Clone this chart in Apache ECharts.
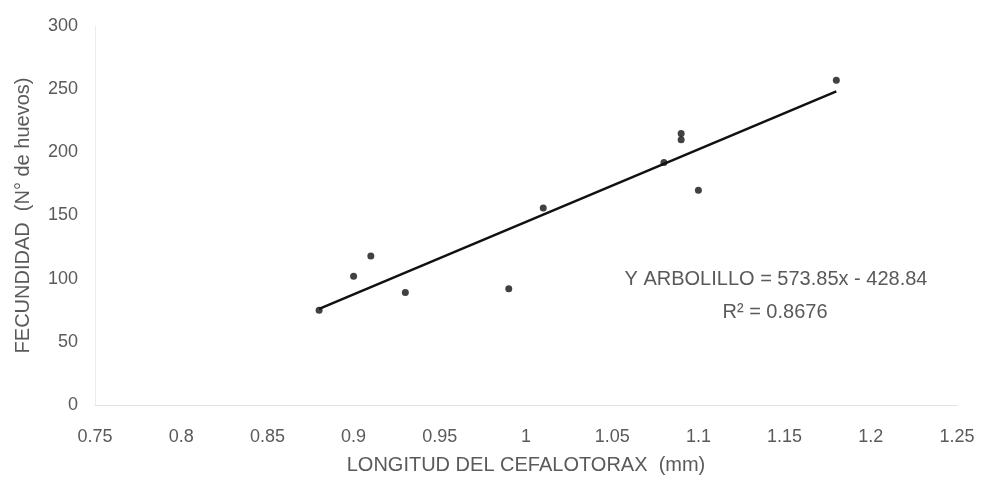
<!DOCTYPE html>
<html>
<head>
<meta charset="utf-8">
<script src="https://cdn.jsdelivr.net/npm/echarts@6/dist/echarts.min.js"></script>
<style>
  html, body { margin: 0; padding: 0; background: #fff; }
  #chart { width: 981px; height: 483px; }
</style>
</head>
<body>
<div id="chart"></div>
<script>
// Cephalothorax length (mm) against egg count
const longitud = [0.88, 0.90, 0.91, 0.93, 0.99, 1.01, 1.08, 1.09, 1.09, 1.10, 1.18];
const huevos   = [75, 102, 118, 89, 92, 156, 192, 215, 210, 170, 257];

// Least-squares fit reported for the sample
const pendiente = 573.85;
const intercepto = -428.84;
const r2 = 0.8676;
const rangoAjuste = [0.88, 1.18];

const yTicks = { min: 0, max: 300, interval: 50 };
const xTicks = { min: 0.75, max: 1.25, interval: 0.05 };

const puntos = longitud.map((x, i) => [x, huevos[i]]);
const recta = rangoAjuste.map(x => [x, pendiente * x + intercepto]);

const fuente = 'Liberation Sans, Arial, sans-serif';
const gris = '#5a5a5a';

const chart = echarts.init(document.getElementById('chart'));
chart.setOption({
  backgroundColor: '#fff',
  animation: false,
  grid: { left: 95, right: 24, top: 26, bottom: 78 },
  xAxis: {
    type: 'value',
    min: xTicks.min, max: xTicks.max, interval: xTicks.interval,
    name: 'LONGITUD DEL CEFALOTORAX  (mm)',
    nameLocation: 'middle', nameGap: 50,
    nameTextStyle: { fontFamily: fuente, fontSize: 20, color: gris },
    axisLine: { lineStyle: { color: '#e2e2e2', width: 1 } },
    axisTick: { show: false },
    axisLabel: { fontFamily: fuente, fontSize: 18, color: gris, margin: 23 },
    splitLine: { show: false }
  },
  yAxis: {
    type: 'value',
    min: yTicks.min, max: yTicks.max, interval: yTicks.interval,
    name: 'FECUNDIDAD  (N° de huevos)',
    nameLocation: 'middle', nameGap: 62, nameRotate: 90,
    nameTextStyle: { fontFamily: fuente, fontSize: 20, color: gris },
    axisLine: { show: true, lineStyle: { color: '#ececec', width: 1 } },
    axisTick: { show: false },
    axisLabel: { fontFamily: fuente, fontSize: 18, color: gris, margin: 17 },
    splitLine: { show: false }
  },
  series: [
    {
      type: 'line',
      data: recta,
      symbol: 'none',
      lineStyle: { color: '#111', width: 2.5 },
      z: 2
    },
    {
      type: 'scatter',
      data: puntos,
      symbol: 'circle',
      symbolSize: 7,
      itemStyle: { color: '#111' },
      z: 3
    }
  ],
  graphic: [
    {
      type: 'text',
      x: 776, y: 279,
      style: {
        text: 'Y ARBOLILLO = ' + pendiente.toFixed(2) + 'x - ' + Math.abs(intercepto).toFixed(2),
        font: '20px ' + fuente, fill: gris,
        align: 'center', verticalAlign: 'middle'
      }
    },
    {
      type: 'text',
      x: 775, y: 312,
      style: {
        text: 'R² = ' + r2.toFixed(4),
        font: '20px ' + fuente, fill: gris,
        align: 'center', verticalAlign: 'middle'
      }
    }
  ]
});
</script>
</body>
</html>
